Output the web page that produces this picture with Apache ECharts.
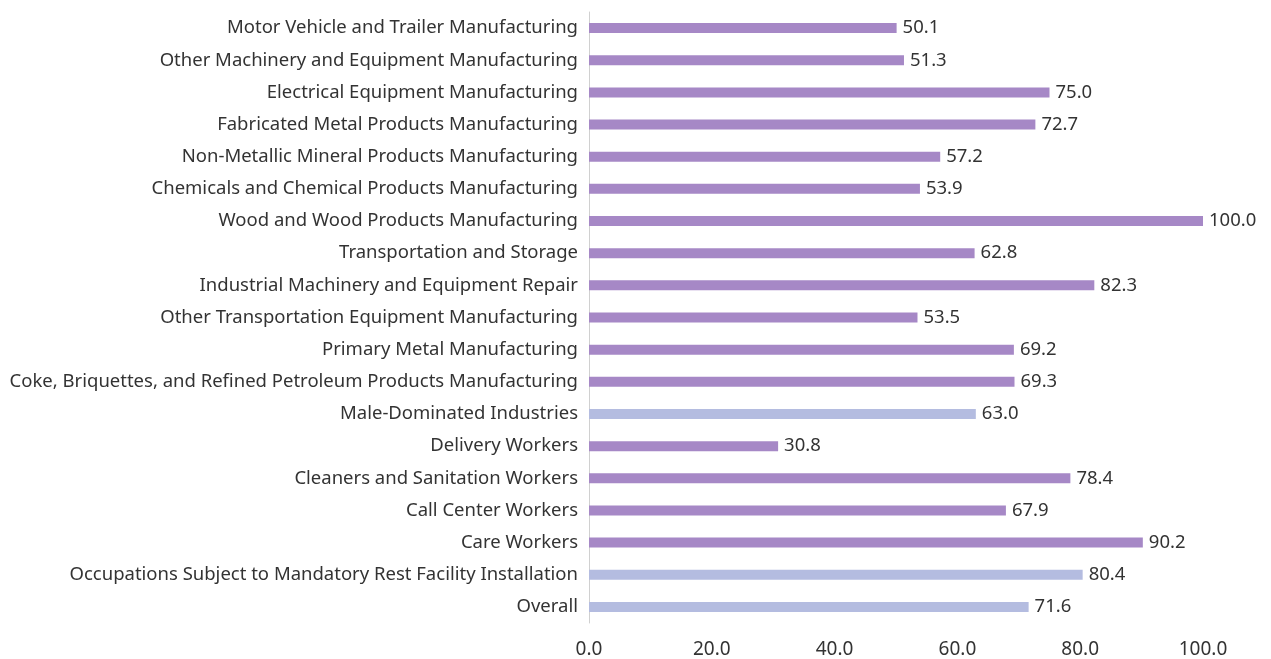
<!DOCTYPE html>
<html>
<head>
<meta charset="utf-8">
<script src="https://cdn.jsdelivr.net/npm/echarts@6/dist/echarts.min.js"></script>
<style>
  html, body { margin: 0; padding: 0; background: #fff; }
  #chart { width: 1271px; height: 659px; }
</style>
</head>
<body>
<div id="chart"></div>
<script>
// categories, top to bottom
const categories = [
  'Motor Vehicle and Trailer Manufacturing',
  'Other Machinery and Equipment Manufacturing',
  'Electrical Equipment Manufacturing',
  'Fabricated Metal Products Manufacturing',
  'Non-Metallic Mineral Products Manufacturing',
  'Chemicals and Chemical Products Manufacturing',
  'Wood and Wood Products Manufacturing',
  'Transportation and Storage',
  'Industrial Machinery and Equipment Repair',
  'Other Transportation Equipment Manufacturing',
  'Primary Metal Manufacturing',
  'Coke, Briquettes, and Refined Petroleum Products Manufacturing',
  'Male-Dominated Industries',
  'Delivery Workers',
  'Cleaners and Sanitation Workers',
  'Call Center Workers',
  'Care Workers',
  'Occupations Subject to Mandatory Rest Facility Installation',
  'Overall'
];
const values = [50.1, 51.3, 75.0, 72.7, 57.2, 53.9, 100.0, 62.8, 82.3, 53.5, 69.2, 69.3, 63.0, 30.8, 78.4, 67.9, 90.2, 80.4, 71.6];
// summary rows drawn in the lighter colour
const summaryRows = ['Male-Dominated Industries', 'Occupations Subject to Mandatory Rest Facility Installation', 'Overall'];

const PURPLE = '#a688c6';
const LIGHT = '#b4bce0';
const FONT = '"Noto Sans", sans-serif';

const chart = echarts.init(document.getElementById('chart'));

chart.setOption({
  animation: false,
  textStyle: { fontFamily: FONT },
  grid: { left: 589, right: 68, top: 12, bottom: 36, containLabel: false },
  xAxis: {
    type: 'value',
    min: 0,
    max: 100,
    interval: 20,
    axisLine: { show: false },
    axisTick: { show: false },
    splitLine: { show: false },
    axisLabel: {
      color: '#333',
      fontSize: 19,
      fontFamily: FONT,
      margin: 17,
      formatter: v => v.toFixed(1)
    }
  },
  yAxis: {
    type: 'category',
    data: categories,
    inverse: true,
    axisLine: { show: true, lineStyle: { color: '#d0d0d0', width: 1 } },
    axisTick: { show: false },
    axisLabel: {
      color: '#333',
      fontSize: 18.5,
      fontFamily: FONT,
      margin: 11
    }
  },
  series: [{
    type: 'bar',
    barWidth: 10,
    data: values.map((v, i) => ({
      value: v,
      itemStyle: { color: summaryRows.includes(categories[i]) ? LIGHT : PURPLE }
    })),
    label: {
      show: true,
      position: 'right',
      distance: 6,
      color: '#333',
      fontSize: 18.5,
      fontFamily: FONT,
      formatter: p => p.value.toFixed(1)
    }
  }]
});
</script>
</body>
</html>
